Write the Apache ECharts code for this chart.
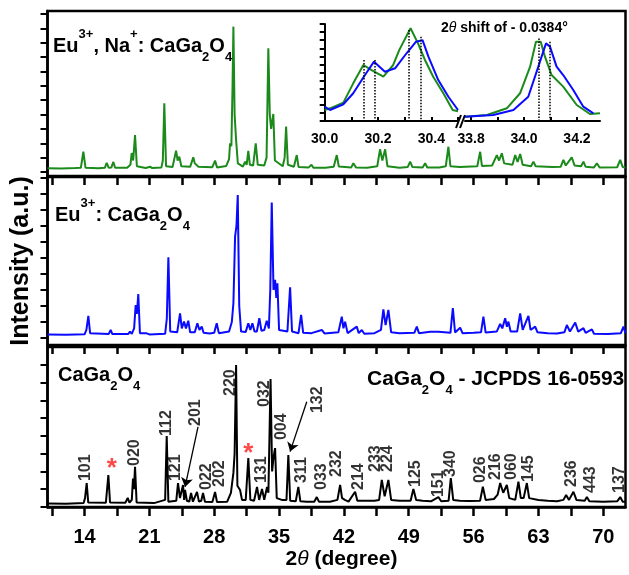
<!DOCTYPE html>
<html>
<head>
<meta charset="utf-8">
<title>CaGa2O4 XRD</title>
<script src="https://cdn.jsdelivr.net/npm/echarts@6/dist/echarts.min.js"></script>
<style>
html, body { margin: 0; padding: 0; background: #fff; }
#chart { width: 629px; height: 575px; }
</style>
</head>
<body>
<div id="chart"></div>
<script>
// [2theta (deg), intensity (a.u.)]
const euNaPattern = [
  [10.0,2.6],[11.5,2.4],[13.0,2.7],[13.6,2.9],[13.87,14.1],[14.1,3.0],[15.5,2.6],[16.2,3],[16.39,6.3],[16.6,3],
  [16.9,3.2],[17.11,7.0],[17.3,3],[18.6,3.0],[18.95,5],[19.09,13.2],[19.25,8],[19.45,25.8],[19.65,4],[20.6,2.8],
  [21.07,3.7],[21.3,2.7],[22.3,3.2],[22.45,8],[22.61,47.9],[22.8,4],[23.5,3.4],[23.88,14.8],[24.05,8],[24.23,10.7],
  [24.45,4],[25.4,3.6],[25.74,10.2],[25.9,6],[26.11,7.2],[26.3,3.6],[27.8,3.3],[28.09,7.9],[28.3,3.2],[29.3,4.2],
  [29.6,9],[29.71,20],[29.85,18],[29.98,60.6],[30.07,101.3],[30.2,40],[30.36,22.3],[30.55,6],[31.1,3.8],[31.33,7.2],
  [31.5,5],[31.68,14.8],[31.85,5],[32.2,4.5],[32.48,20],[32.7,5],[33.4,4.5],[33.65,10],[33.84,86.2],[34.0,40],
  [34.14,30],[34.38,40.4],[34.55,8],[35.4,4],[35.6,10],[35.76,31.6],[35.95,5],[36.6,3.6],[36.91,11.8],[37.1,3.5],
  [38.2,3.2],[38.5,5],[38.7,3],[40.0,3],[40.9,3.6],[41.23,11.8],[41.45,3.8],[42.8,3.2],[43.02,6.1],[43.3,3.2],
  [44.5,3.0],[45.6,4],[45.9,15.8],[46.15,8],[46.45,15.8],[46.7,4],[48.0,3],[48.9,3.5],[49.15,7.2],[49.4,3.4],
  [50.5,3.2],[50.77,6.1],[51.0,3.1],[52.3,3.2],[53.0,4],[53.28,17.6],[53.5,4],[54.5,3.5],[56.4,4],[56.71,14.1],
  [56.9,4.2],[58.0,4.5],[58.51,11.8],[58.75,8],[59.05,13],[59.3,6],[60.2,5],[60.49,11.8],[60.75,7],[61.03,12.5],
  [61.3,5],[62.2,4],[62.46,7.2],[62.7,4],[64.5,3.5],[65.4,3.6],[65.7,8.4],[65.95,4.5],[66.6,10.2],[66.9,4.5],
  [67.6,4],[67.86,7.2],[68.1,3.6],[69.0,3.2],[69.31,6.1],[69.6,3.1],[71.5,3.3],[71.83,8.4],[72.1,3.4],[72.4,3.2]
];
const euPattern = [
  [10.0,2.2],[12.0,2.0],[14.0,2.3],[14.2,5],[14.41,13.75],[14.6,3],[16.6,2.4],[16.82,5],[17.0,2.4],[18.7,2.4],
  [18.91,3.9],[19.1,2.6],[19.35,6],[19.52,20.6],[19.65,15],[19.8,27.5],[19.98,3],[20.71,2.9],[21.0,2.2],[22.7,2.6],
  [22.88,12],[23.05,50.4],[23.25,4],[24.0,3.5],[24.31,15.4],[24.5,6],[24.74,10.2],[24.95,6],[25.2,10.8],[25.4,3.5],
  [25.9,3.6],[26.18,9.2],[26.4,5],[26.65,7.1],[26.85,3.2],[27.5,2.8],[28.0,3.2],[28.27,9.2],[28.5,3],[29.6,4],
  [29.9,10],[30.07,21.7],[30.25,63.3],[30.4,70],[30.54,89.4],[30.7,20],[30.9,4],[31.4,3.8],[31.68,9.2],[31.9,5],
  [32.12,9.2],[32.35,4],[32.6,4],[32.87,12.3],[33.1,4.5],[33.4,5],[33.67,10.8],[33.9,6],[34.05,30],[34.21,84.6],
  [34.4,30],[34.57,36.3],[34.7,25],[34.82,34.2],[35.0,5],[35.9,4],[36.19,31.7],[36.4,4],[37.1,3],[37.38,14.4],
  [37.6,3.2],[38.5,3],[39.61,5],[39.9,2.8],[41.4,3.5],[41.77,13.3],[41.95,6],[42.13,10.2],[42.4,3],[43.39,7.1],
  [43.6,3],[43.93,5],[44.2,2.6],[45.3,3],[46.0,5],[46.26,17.9],[46.5,8],[46.8,17.5],[47.1,3.5],[48.0,3],
  [49.6,3.2],[49.87,7.1],[50.1,3],[51.31,3.9],[52.2,3.9],[53.5,3.2],[53.76,18.6],[54.0,3.4],[54.55,6.4],[54.8,3],
  [56.0,3.2],[56.8,3.5],[57.06,13.3],[57.3,3.4],[58.5,4],[58.87,8.75],[59.1,6],[59.41,12.3],[59.6,7],[59.76,10.2],
  [60.0,4],[60.7,4],[61.03,15.4],[61.3,5],[61.92,13.75],[62.15,5],[62.65,7.1],[62.9,3.5],[64.0,3],[65.0,2.8],
  [65.8,3.5],[66.07,8.1],[66.4,4],[66.97,9.6],[67.3,4],[67.86,6.1],[68.1,3.2],[68.77,5.4],[69.0,2.6],[70.5,2.4],
  [71.9,3],[72.18,7.1],[72.4,3]
];
const hostPattern = [
  [10.0,2.0],[12.0,1.9],[13.9,2.2],[14.05,5],[14.23,13.5],[14.4,2.5],[16.3,2.4],[16.57,18],[16.75,2.5],[18.4,2.4],
  [18.66,5.1],[18.85,2.4],[19.1,4],[19.23,16],[19.33,10],[19.45,22.7],[19.62,2.6],[21.5,2.2],[22.7,4],[22.87,40],
  [23.05,3],[23.9,3.5],[24.09,13.5],[24.3,5],[24.63,12.4],[24.75,4],[24.85,9.6],[25.05,3.5],[25.3,3],[25.5,7.9],
  [25.7,3],[25.9,3.5],[26.14,8.5],[26.35,3],[26.6,3.5],[26.79,7.9],[27.0,3],[27.8,2.8],[28.09,8.5],[28.3,2.8],
  [29.4,3],[29.8,8],[30.07,19.2],[30.2,30],[30.36,80],[30.5,12],[30.79,9.6],[31.0,4],[31.4,4],[31.68,27.6],
  [31.9,4],[32.3,3.5],[32.62,11.3],[32.85,4],[33.16,10.1],[33.4,4],[33.7,11.3],[33.85,8],[34.08,72.1],[34.25,20],
  [34.4,28],[34.57,33.2],[34.75,5],[35.3,4],[35.8,4],[36.0,29.3],[36.2,3.5],[36.8,3.2],[37.08,11.3],[37.3,3.2],
  [38.0,3],[38.8,3],[39.07,5.6],[39.3,3],[40.5,3],[41.3,4],[41.59,12.4],[41.8,5],[42.1,4],[42.5,3],
  [43.21,8.6],[43.45,3.5],[44.5,3.5],[45.3,3.5],[45.8,4],[46.09,15.2],[46.4,6],[46.8,15.2],[47.1,4],[48.0,3.5],
  [49.2,3.5],[49.5,10.1],[49.8,4],[50.5,3.5],[51.4,3.2],[52.2,5.6],[52.5,3.2],[53.3,3.5],[53.54,16.3],[53.8,4],
  [54.5,3.5],[55.5,3.4],[56.7,3.5],[57.0,11.4],[57.3,4],[58.2,4.5],[58.6,7],[58.87,13.5],[59.2,8],[59.59,12.4],
  [59.85,5],[60.5,4],[60.84,14.3],[61.1,5],[61.4,5],[61.75,13.5],[62.0,5],[63.0,4],[64.0,3.5],[65.0,3.2],
  [65.7,4],[65.99,6.8],[66.3,4],[66.78,8.6],[67.1,4],[68.0,3.5],[68.23,5.6],[68.5,3.2],[70.0,3],[71.5,3.2],
  [71.83,5.6],[72.1,3],[72.4,3]
];

// hkl labels of the JCPDS 16-0593 reflections: [2theta, intensity at label foot, text]
const hklLabels = [
  [14.16,14.6,'101'],[19.45,23.1,'020'],[22.85,40.0,'112'],[23.88,14.6,'121'],[26.04,45.6,'201'],
  [27.17,9.6,'022'],[28.63,11.3,'202'],[29.76,62.5,'220'],[33.49,56.3,'032'],[33.06,13.5,'131'],
  [35.32,37.7,'004'],[39.16,52.9,'132'],[37.38,13.5,'311'],[39.54,9.6,'033'],[41.21,16.9,'232'],
  [43.59,9.6,'214'],[45.37,19.7,'233'],[46.72,19.7,'224'],[49.69,11.3,'125'],[52.22,5.6,'151'],
  [53.47,16.9,'340'],[56.71,13.5,'026'],[58.33,15.2,'216'],[60.11,15.2,'060'],[61.94,14.1,'145'],
  [66.59,11.3,'236'],[68.58,7.9,'443'],[71.72,7.9,'137']
];
const impurityPeaks = [[16.93,24.6],[31.68,33.1]];
const arrowLines = [
  [[26.25,45.1],[24.85,11.3]],
  [[37.99,59.3],[36.19,31.2]]
];

// inset: zoom on the 30.0-30.5 and 33.8-34.3 reflections
const insetGreenLow = [
  [30.0,1.36],[30.02,1.57],[30.07,2.27],[30.107,4.66],[30.145,6.93],[30.176,6.3],[30.22,5.48],[30.257,6.93],
  [30.28,8.8],[30.322,11.47],[30.35,9.6],[30.376,7.55],[30.407,5.48],[30.445,3.43],[30.48,1.36],[30.5,1.2]
];
const insetBlueLow = [
  [30.0,1.77],[30.02,1.36],[30.07,2.07],[30.107,3.43],[30.151,5.69],[30.185,7.34],[30.226,6.1],[30.264,6.52],
  [30.307,8.38],[30.342,9.8],[30.367,10.0],[30.389,7.96],[30.426,5.07],[30.464,3.0],[30.5,1.36]
];
const insetGreenHigh = [
  [33.777,0.53],[33.86,0.74],[33.935,1.57],[33.985,3.43],[34.023,6.72],[34.045,9.8],[34.063,9.8],[34.079,7.96],
  [34.104,5.69],[34.148,4.25],[34.199,1.98],[34.249,0.87],[34.287,0.95]
];
const insetBlueHigh = [
  [33.777,0.53],[33.884,0.74],[33.96,1.36],[34.016,3.0],[34.054,6.72],[34.083,9.6],[34.098,9.2],[34.123,6.72],
  [34.148,5.69],[34.186,3.84],[34.224,1.77],[34.262,0.95]
];
const insetMarkersLow = [[30.148,7.55],[30.188,7.55],[30.315,11.26],[30.361,10.43]];
const insetMarkersHigh = [[34.055,10.2],[34.098,9.8]];

const mainTicks = [10.5,14,17.5,21,24.5,28,31.5,35,38.5,42,45.5,49,52.5,56,59.5,63,66.5,70];
const mainLabels = [14,21,28,35,42,49,56,63,70];
const topYTicks = [0,10,20,30,40,50,60,70,80,90,100,110];
const midYTicks = [0,10,20,30,40,50,60,70,80,90,100];
const lowYTicks = [0,10,20,30,40,50,60,70,80];
const insetTicksLow = [30.0,30.1,30.2,30.3,30.4,30.5];
const insetLabelsLow = [30.0,30.2,30.4];
const insetTicksHigh = [33.8,33.9,34.0,34.1,34.2];
const insetLabelsHigh = [33.8,34.0,34.2];
const insetYTicks = [0,1,2,3,4,5,6,7,8,9,10,11,12];

const FONT = '"Liberation Sans", Arial, sans-serif';
const GREEN = '#1b8a1b';
const BLUE = '#0a0aff';

const chart = echarts.init(document.getElementById('chart'));

function richPanel(size) {
  return {
    n: { fontFamily: FONT, fontSize: size, fontWeight: 'bold', color: '#000', lineHeight: 36 },
    sup: { fontFamily: FONT, fontSize: 13, fontWeight: 'bold', color: '#000', lineHeight: 14, verticalAlign: 'top' },
    sub: { fontFamily: FONT, fontSize: 13, fontWeight: 'bold', color: '#000', lineHeight: 14, verticalAlign: 'bottom' }
  };
}

function mainX(idx, withLabels) {
  return {
    type: 'value', gridIndex: idx, min: 10, max: 72.4,
    axisLine: { show: true, onZero: false, lineStyle: { color: '#000', width: 2.5 } },
    axisTick: { show: true, customValues: mainTicks, length: 9, inside: false, lineStyle: { color: '#000', width: 2.5 } },
    axisLabel: {
      show: withLabels, customValues: mainLabels, margin: 20,
      fontFamily: FONT, fontSize: 20, fontWeight: 'bold', color: '#000'
    },
    splitLine: { show: false }
  };
}

function mainY(idx, min, max, ticks) {
  return {
    type: 'value', gridIndex: idx, min: min, max: max,
    axisLine: { show: true, onZero: false, lineStyle: { color: '#000', width: 2.5 } },
    axisTick: { show: true, customValues: ticks, length: 7, inside: false, lineStyle: { color: '#000', width: 2 } },
    axisLabel: { show: false },
    splitLine: { show: false }
  };
}

function insetX(idx, min, max, ticks, labels) {
  return {
    type: 'value', gridIndex: idx, min: min, max: max,
    axisLine: { show: true, onZero: false, lineStyle: { color: '#000', width: 2 } },
    axisTick: { show: true, customValues: ticks, length: 4, inside: true, lineStyle: { color: '#000', width: 2 } },
    axisLabel: {
      show: true, customValues: labels, margin: 11, formatter: v => v.toFixed(1),
      fontFamily: FONT, fontSize: 14, fontWeight: 'bold', color: '#000'
    },
    splitLine: { show: false }
  };
}

function pattern(idx, data, color) {
  return {
    type: 'line', xAxisIndex: idx, yAxisIndex: idx, data: data,
    showSymbol: false, symbol: 'none', silent: true,
    lineStyle: { color: color, width: 2 }
  };
}

function markers(list) {
  return {
    silent: true, symbol: ['none', 'none'], label: { show: false },
    lineStyle: { color: '#000', width: 1.5, type: 'dotted' },
    data: list.map(([x, top]) => [{ coord: [x, top] }, { coord: [x, 0] }])
  };
}

const hostSeries = pattern(2, hostPattern, '#000');
hostSeries.markLine = {
  silent: true, symbol: ['none', 'arrow'], symbolSize: 9, label: { show: false },
  lineStyle: { color: '#000', width: 1.3, type: 'solid' },
  data: arrowLines.map(([a, b]) => [{ coord: a }, { coord: b }])
};

const insetGreenLowSeries = pattern(3, insetGreenLow, GREEN);
insetGreenLowSeries.markLine = markers(insetMarkersLow);
const insetGreenHighSeries = pattern(4, insetGreenHigh, GREEN);
insetGreenHighSeries.markLine = markers(insetMarkersHigh);

chart.setOption({
  animation: false,
  backgroundColor: '#fff',
  title: [
    { left: 53, top: 28, padding: 0, text: '{n|Eu}{sup|3+}{n|, Na}{sup|+}{n|: CaGa}{sub|2}{n|O}{sub|4}', textStyle: { rich: richPanel(20) } },
    { left: 55, top: 197, padding: 0, text: '{n|Eu}{sup|3+}{n|: CaGa}{sub|2}{n|O}{sub|4}', textStyle: { rich: richPanel(20) } },
    { left: 58, top: 357, padding: 0, text: '{n|CaGa}{sub|2}{n|O}{sub|4}', textStyle: { rich: richPanel(20) } },
    { left: 367, top: 361, padding: 0, text: '{n|CaGa}{sub|2}{n|O}{sub|4}{n| - JCPDS 16-0593}', textStyle: { rich: richPanel(21) } },
    {
      left: 441, top: 18, padding: 0, text: '{b|2}{it|θ}{b| shift of - 0.0384°}',
      textStyle: {
        rich: {
          b: { fontFamily: FONT, fontSize: 14, fontWeight: 'bold', color: '#000', lineHeight: 20 },
          it: { fontFamily: FONT, fontSize: 14, fontStyle: 'italic', fontWeight: 'normal', color: '#000', lineHeight: 20 }
        }
      }
    }
  ],
  grid: [
    { left: 47.5, top: 11, width: 578, height: 165, show: true, borderColor: '#000', borderWidth: 2.5, outerBoundsMode: 'none' },
    { left: 47.5, top: 177, width: 578, height: 168, show: true, borderColor: '#000', borderWidth: 2.5, outerBoundsMode: 'none' },
    { left: 47.5, top: 347, width: 578, height: 160, show: true, borderColor: '#000', borderWidth: 2.5, outerBoundsMode: 'none' },
    { left: 324.7, top: 24, width: 133.3, height: 97, outerBoundsMode: 'none' },
    { left: 465, top: 24, width: 135, height: 97, outerBoundsMode: 'none' }
  ],
  xAxis: [
    mainX(0, false),
    mainX(1, false),
    Object.assign(mainX(2, true), {
      name: '{a|2}{it|θ}{a| (degree)}', nameLocation: 'middle', nameGap: 42,
      nameTextStyle: {
        padding: [0, 0, 0, 10],
        rich: {
          a: { fontFamily: FONT, fontSize: 21, fontWeight: 'bold', color: '#000' },
          it: { fontFamily: FONT, fontSize: 21, fontStyle: 'italic', color: '#000' }
        }
      }
    }),
    insetX(3, 30.0, 30.5, insetTicksLow, insetLabelsLow),
    insetX(4, 33.777, 34.287, insetTicksHigh, insetLabelsHigh)
  ],
  yAxis: [
    mainY(0, -2.8, 112.2, topYTicks),
    Object.assign(mainY(1, -4.4, 100.6, midYTicks), {
      name: 'Intensity (a.u.)', nameLocation: 'middle', nameGap: 14,
      nameTextStyle: { fontFamily: FONT, fontSize: 25, fontWeight: 'bold', color: '#000' }
    }),
    mainY(2, 0, 90.1, lowYTicks),
    {
      type: 'value', gridIndex: 3, min: 0, max: 12,
      axisLine: { show: true, onZero: false, lineStyle: { color: '#000', width: 2 } },
      axisTick: { show: true, customValues: insetYTicks, length: 5, inside: false, lineStyle: { color: '#000', width: 2 } },
      axisLabel: { show: false }, splitLine: { show: false }
    },
    {
      type: 'value', gridIndex: 4, min: 0, max: 12,
      axisLine: { show: false }, axisTick: { show: false }, axisLabel: { show: false }, splitLine: { show: false }
    }
  ],
  graphic: [
    { type: 'line', shape: { x1: 456, y1: 128, x2: 461, y2: 115 }, style: { stroke: '#000', lineWidth: 2 } },
    { type: 'line', shape: { x1: 460, y1: 128, x2: 465, y2: 115 }, style: { stroke: '#000', lineWidth: 2 } }
  ],
  series: [
    pattern(0, euNaPattern, GREEN),
    pattern(1, euPattern, BLUE),
    hostSeries,
    {
      type: 'scatter', xAxisIndex: 2, yAxisIndex: 2, symbolSize: 1, silent: true,
      itemStyle: { color: 'rgba(0,0,0,0)' },
      data: hklLabels.map(d => ({ value: [d[0], d[1]], name: d[2] })),
      label: {
        show: true, formatter: '{b}', position: 'inside', rotate: 90, align: 'left', verticalAlign: 'middle',
        fontFamily: FONT, fontSize: 16, fontWeight: 'bold', color: '#000'
      }
    },
    {
      type: 'scatter', xAxisIndex: 2, yAxisIndex: 2, symbolSize: 1, silent: true,
      itemStyle: { color: 'rgba(0,0,0,0)' },
      data: impurityPeaks,
      label: {
        show: true, formatter: '*', position: 'inside', offset: [0, 6],
        fontFamily: FONT, fontSize: 26, fontWeight: 'bold', color: '#ff1a1a'
      }
    },
    insetGreenLowSeries,
    pattern(3, insetBlueLow, BLUE),
    insetGreenHighSeries,
    pattern(4, insetBlueHigh, BLUE)
  ]
});
</script>
</body>
</html>
